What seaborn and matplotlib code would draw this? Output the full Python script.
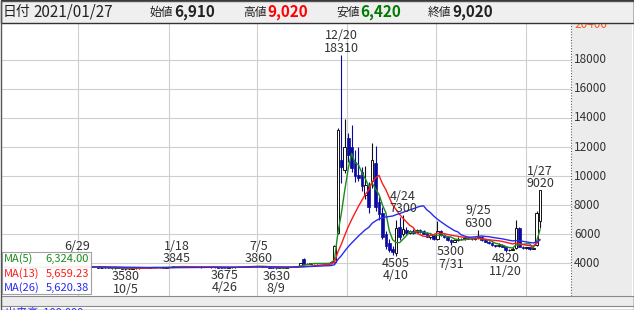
import numpy as np
import pandas as pd
import matplotlib
matplotlib.use("Agg")
import matplotlib.pyplot as plt
import matplotlib.transforms as mtrans
from matplotlib.patches import Rectangle
import seaborn as sns

sns.set_style("white")
plt.rcParams["font.family"] = ["Noto Sans CJK JP", "DejaVu Sans"]

# ---------------- data (weekly candles) ----------------
week_start = "2018-02-02"
last_date = "2021-01-27"

opens = [3800,3790,3720,3760,3780,3740,3750,3720,3690,3730,
         3750,3770,3790,3780,3790,3800,3780,3770,3790,3810,
         3800,3820,3830,3790,3770,3750,3760,3740,3700,3720,
         3710,3690,3670,3690,3700,3650,3620,3650,3680,3660,
         3700,3720,3710,3740,3760,3730,3750,3710,3750,3780,
         3800,3810,3790,3770,3760,3780,3770,3750,3740,3770,
         3750,3730,3750,3720,3710,3700,3730,3740,3760,3770,
         3780,3790,3800,3810,3820,3830,3780,3750,3720,3680,
         3670,3700,3720,3740,3770,3790,3820,4300,3980,3990,
         4010,4000,4020,4010,3990,4010,4100,6100,11100,10400,
         12600,12000,11000,10100,10300,8700,9300,9700,10900,8200,
         7450,6000,5400,5000,4700,6500,6000,6300,6100,6250,
         6150,6300,6200,6100,5850,5950,5650,6200,5950,5800,
         5600,5500,5600,5700,5650,5750,5700,5650,5750,5800,
         5600,5500,5410,5250,5200,5300,5150,4900,4950,5050,
         6440,5150,5060,5100,5000,5300,6910]
highs = [3850,3800,3780,3800,3790,3770,3760,3730,3740,3760,
         3780,3800,3810,3800,3820,3830,3800,3800,3820,3840,
         3840,3860,3840,3810,3790,3770,3780,3750,3730,3740,
         3730,3710,3700,3720,3710,3670,3660,3690,3700,3710,
         3730,3740,3750,3770,3780,3760,3770,3760,3790,3820,
         3845,3830,3810,3790,3790,3800,3790,3770,3780,3790,
         3760,3760,3770,3740,3720,3740,3760,3770,3790,3800,
         3810,3820,3830,3840,3860,3840,3800,3770,3730,3700,
         3710,3730,3750,3780,3800,3830,4050,4350,4020,4030,
         4050,4040,4060,4040,4030,4150,5300,13300,18310,13900,
         13000,13500,11800,12000,10600,10700,9600,12300,12100,8600,
         7900,6200,5700,5200,7000,7200,7300,6500,6300,6350,
         6400,6400,6300,6150,6000,6050,6900,6300,6050,5900,
         5700,5700,5800,5750,5850,5800,5750,5800,6300,5900,
         5700,5550,5450,5300,5400,5350,5200,5000,5100,7000,
         6500,5200,5150,5150,5100,7600,9020]
lows = [3760,3700,3700,3740,3720,3720,3700,3660,3680,3710,
        3730,3750,3760,3760,3770,3770,3750,3760,3780,3790,
        3790,3800,3780,3760,3740,3720,3730,3690,3680,3700,
        3680,3650,3650,3670,3640,3580,3600,3630,3640,3650,
        3680,3690,3700,3720,3710,3690,3700,3700,3730,3760,
        3780,3770,3750,3740,3740,3750,3740,3720,3730,3740,
        3710,3720,3710,3690,3675,3690,3710,3720,3740,3750,
        3760,3770,3780,3790,3800,3770,3740,3710,3660,3630,
        3660,3680,3700,3730,3750,3770,3800,3950,3940,3960,
        3980,3970,3990,3970,3960,3990,4050,6000,9500,10200,
        11000,10300,9600,9700,9000,8400,7500,9200,7600,7000,
        5700,5000,4800,4600,4505,5600,5900,6000,6000,6050,
        6100,6100,6000,5800,5700,5600,5600,5900,5750,5550,
        5300,5450,5550,5600,5600,5650,5600,5600,5700,5550,
        5450,5350,5200,5150,5150,5100,4820,4850,4900,5000,
        5100,5000,5000,4950,4980,5200,6420]
closes = [3790,3720,3760,3780,3740,3750,3720,3690,3730,3750,
          3770,3790,3780,3790,3800,3780,3770,3790,3810,3800,
          3820,3830,3790,3770,3750,3760,3740,3700,3720,3710,
          3690,3670,3690,3700,3650,3620,3650,3680,3660,3700,
          3720,3710,3740,3760,3730,3750,3710,3750,3780,3800,
          3810,3790,3770,3760,3780,3770,3750,3740,3770,3750,
          3730,3750,3720,3710,3700,3730,3740,3760,3770,3780,
          3790,3800,3810,3820,3830,3780,3750,3720,3680,3670,
          3700,3720,3740,3770,3790,3820,4020,3980,3990,4010,
          4000,4020,4010,3990,4010,4100,5200,13200,10650,12000,
          11450,10550,10000,9900,9300,9400,7900,11100,7900,7400,
          5850,5200,4900,4800,6450,5800,6400,6100,6200,6100,
          6300,6150,6050,5850,5950,5650,6250,5950,5800,5600,
          5500,5600,5700,5650,5750,5700,5650,5750,5800,5600,
          5500,5410,5250,5200,5300,5150,4900,4950,5000,6440,
          5150,5060,5100,5000,5050,7450,9020]

ma_windows = [5, 13, 26]
ma_colors = ["#1c8a1c", "#ff1a1a", "#2a2af0"]

mark_dates = ["2018-06-29", "2018-10-05", "2019-01-18", "2019-04-26", "2019-07-05",
              "2019-08-09", "2019-12-20", "2020-04-10", "2020-04-24", "2020-07-31",
              "2020-09-25", "2020-11-20", "2021-01-27"]
mark_kinds = ["high", "low", "high", "low", "high", "low", "high", "low", "high",
              "low", "high", "low", "high"]

month_marks = ["2018-07-01", "2019-01-01", "2019-07-01", "2020-01-01", "2020-07-01", "2021-01-01"]
month_labels = ["7", "19/1", "7", "20/1", "7", "21/1"]
price_ticks = [4000, 6000, 8000, 10000, 12000, 14000, 16000, 18000]
top_price_label = "20400"

header_items = [("始値", "6,910", "#222222"), ("高値", "9,020", "#ff0000"),
                ("安値", "6,420", "#007a00"), ("終値", "9,020", "#222222")]
header_date = "2021/01/27"

# ---------------- frame ----------------
dates = list(pd.date_range(week_start, periods=len(opens) - 1, freq="W-FRI")) + [pd.Timestamp(last_date)]
t0 = pd.Timestamp(week_start)
xs = np.array([int(round((d - t0).days / 7)) for d in dates])
df = pd.DataFrame(dict(date=dates, x=xs, o=opens, h=highs, l=lows, c=closes))
for n in ma_windows:
    df[f"ma{n}"] = df["c"].rolling(n).mean()

W, H = 634, 310
fig = plt.figure(figsize=(W / 100, H / 100), dpi=100)
fig.patch.set_facecolor("white")
PX = lambda p: p / W
PY = lambda p: 1 - p / H

ax = fig.add_axes([PX(2), PY(296), PX(571) - PX(2), PY(23) - PY(296)])
ax.set_xlim(-1.04, 165.04)
ax.set_ylim(1766, 20529)
ax.set_facecolor("white")
for s in ax.spines.values():
    s.set_visible(False)

# grid
for p in price_ticks:
    ax.axhline(p, color="#cfcfcf", lw=0.8, zorder=0)
month_x = [(pd.Timestamp(m) - t0).days / 7 for m in month_marks]
for mx in month_x:
    ax.axvline(mx, color="#cfcfcf", lw=0.8, zorder=0)

# candles
up = df["c"] >= df["o"]
dn = ~up
navy = "#0a0aa0"
ax.vlines(df.x[up], df.l[up], df.h[up], color="#111111", lw=0.8, zorder=2)
ax.vlines(df.x[dn], df.l[dn], df.h[dn], color=navy, lw=0.8, zorder=2)
ax.bar(df.x[up], (df.c - df.o)[up], bottom=df.o[up], width=0.78,
       facecolor="white", edgecolor="#111111", linewidth=0.7, zorder=3)
ax.bar(df.x[dn], (df.o - df.c)[dn], bottom=df.c[dn], width=0.78,
       facecolor=navy, edgecolor=navy, linewidth=0.5, zorder=3)

# moving averages
for n, col in zip(ma_windows, ma_colors):
    sns.lineplot(data=df, x="x", y=f"ma{n}", color=col, lw=1.0, ax=ax, zorder=4, legend=False)
ax.set_xlabel("")
ax.set_ylabel("")
ax.set_xticks([])
ax.set_yticks([])

# extreme labels
for md, kind in zip(mark_dates, mark_kinds):
    row = df[df.date == pd.Timestamp(md)].iloc[0]
    d = pd.Timestamp(md)
    dtxt = f"{d.month}/{d.day}"
    if kind == "high":
        ax.annotate(f"{dtxt}\n{int(row.h)}", (row.x, row.h), xytext=(0, 0.3),
                    textcoords="offset points", ha="center", va="bottom",
                    fontsize=9, color="#333333", linespacing=0.95, zorder=5)
    else:
        ax.annotate(f"{int(row.l)}\n{dtxt}", (row.x, row.l), xytext=(0, -0.5),
                    textcoords="offset points", ha="center", va="top",
                    fontsize=9, color="#333333", linespacing=0.95, zorder=5)

# dotted right boundary
ax.plot([1, 1], [0, 1], transform=ax.transAxes, color="#555555", lw=0.8,
        ls=(0, (1, 1.5)), clip_on=False, zorder=6)

# right panel & price labels
fig.add_artist(Rectangle((PX(571.5), PY(296)), PX(632) - PX(571.5), PY(22) - PY(296),
                         transform=fig.transFigure, facecolor="#ececec", edgecolor="none", zorder=-1))
ytr = mtrans.blended_transform_factory(ax.transAxes, ax.transData)
for p in price_ticks:
    ax.text(1 + 3 / 569, p, str(p), transform=ytr, ha="left", va="center",
            fontsize=8.5, color="#333333")
ax.text(1 + 3 / 569, float(top_price_label), top_price_label, transform=ytr, ha="left",
        va="center", fontsize=8.5, color="#ff5522")

# bottom strip with month labels
fig.add_artist(Rectangle((PX(0.5), PY(306)), PX(633.5) - PX(0.5), PY(296) - PY(306),
                         transform=fig.transFigure, facecolor="#ececec", edgecolor="#8a8a8a",
                         lw=0.8, zorder=7))
xtr = mtrans.blended_transform_factory(ax.transData, fig.transFigure)
for mx, lab in zip(month_x, month_labels):
    ax.text(mx + 0.6, PY(301.5), lab, transform=xtr, ha="left", va="center",
            fontsize=6.5, color="#777777", zorder=8)
fig.text(PX(5), PY(306.8), "出来高  100,000", ha="left", va="top", fontsize=8,
         color="#2a2af0", zorder=8)

# MA legend box
fig.add_artist(Rectangle((PX(2), PY(294)), PX(91) - PX(2), PY(252) - PY(294),
                         transform=fig.transFigure, facecolor="white", alpha=0.93,
                         edgecolor="#9a9a9a", lw=0.8, zorder=8))
for k, (n, col) in enumerate(zip(ma_windows, ma_colors)):
    yy = 259 + k * 14.5
    fig.text(PX(4), PY(yy), f"MA({n})", ha="left", va="center", fontsize=8, color=col, zorder=9)
    fig.text(PX(89), PY(yy), f"{df[f'ma{n}'].iloc[-1]:,.2f}", ha="right", va="center",
             fontsize=8, color=col, zorder=9)

# header
fig.add_artist(Rectangle((PX(0.5), PY(22.5)), PX(633.5) - PX(0.5), PY(0.5) - PY(22.5),
                         transform=fig.transFigure, facecolor="#efefef", edgecolor="#333333",
                         lw=1.0, zorder=10))
fig.text(PX(3), PY(12), "日付", ha="left", va="center", fontsize=10, color="#222222", zorder=11)
fig.text(PX(33), PY(12), header_date, ha="left", va="center", fontsize=11, color="#222222", zorder=11)
hx = [150, 243, 336, 428]
for x0, (lab, val, col) in zip(hx, header_items):
    fig.text(PX(x0), PY(12.5), lab, ha="left", va="center", fontsize=8.5, color="#222222", zorder=11)
    fig.text(PX(x0 + 24), PY(12), val, ha="left", va="center", fontsize=11,
             fontweight="bold", color=col, zorder=11)

# outer frame
fig.add_artist(Rectangle((PX(0.5), PY(309.5)), PX(633.5) - PX(0.5), PY(0.5) - PY(309.5),
                         transform=fig.transFigure, facecolor="none", edgecolor="#555555",
                         lw=1.0, zorder=12))

fig.savefig("out.png", dpi=100)
